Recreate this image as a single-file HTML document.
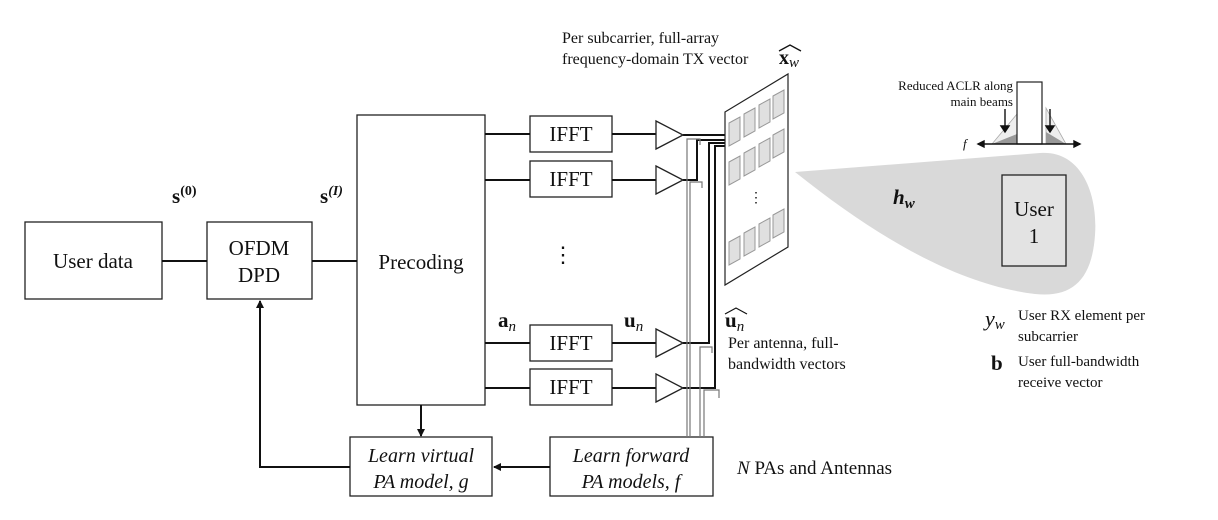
<!DOCTYPE html>
<html><head><meta charset="utf-8"><style>
body{margin:0;background:#fff}
svg{display:block}
text{font-family:"Liberation Serif",serif;fill:#111}
</style></head><body>
<svg width="1218" height="520" viewBox="0 0 1218 520" xmlns="http://www.w3.org/2000/svg">
<defs>
<marker id="ah" markerWidth="8" markerHeight="8" refX="7" refY="4" orient="auto" markerUnits="userSpaceOnUse"><path d="M0,0 L8,4 L0,8 Z" fill="#111"/></marker>
</defs>
<!-- beam -->
<path d="M795,172 L1040,153 C1082,150 1098,195 1095,235 C1092,280 1072,298 1035,294 C960,285 880,240 795,172 Z" fill="#d9d9d9"/>
<rect x="1002" y="175" width="64" height="91" fill="#e3e3e3" stroke="#222" stroke-width="1.3"/>
<text x="1034" y="216" font-size="21" text-anchor="middle">User</text>
<text x="1034" y="243" font-size="21" text-anchor="middle">1</text>
<text x="893" y="204" font-size="21" font-weight="bold" font-style="italic">h<tspan font-size="15" dy="4">w</tspan></text>

<!-- boxes -->
<g fill="#fff" stroke="#222" stroke-width="1.3">
<rect x="25" y="222" width="137" height="77"/>
<rect x="207" y="222" width="105" height="77"/>
<rect x="357" y="115" width="128" height="290"/>
<rect x="530" y="116" width="82" height="36"/>
<rect x="530" y="161" width="82" height="36"/>
<rect x="530" y="325" width="82" height="36"/>
<rect x="530" y="369" width="82" height="36"/>
<rect x="350" y="437" width="142" height="59"/>
<rect x="550" y="437" width="163" height="59"/>
</g>
<text x="93" y="268" font-size="21" text-anchor="middle">User data</text>
<text x="259" y="255" font-size="21" text-anchor="middle">OFDM</text>
<text x="259" y="282" font-size="21" text-anchor="middle">DPD</text>
<text x="421" y="269" font-size="21" text-anchor="middle">Precoding</text>
<g font-size="21" text-anchor="middle"><text x="571" y="141">IFFT</text><text x="571" y="186">IFFT</text><text x="571" y="350">IFFT</text><text x="571" y="394">IFFT</text></g>
<text x="421" y="462" font-size="20" font-style="italic" text-anchor="middle">Learn virtual</text>
<text x="421" y="488" font-size="20" font-style="italic" text-anchor="middle">PA model, g</text>
<text x="631" y="462" font-size="20" font-style="italic" text-anchor="middle">Learn forward</text>
<text x="631" y="488" font-size="20" font-style="italic" text-anchor="middle">PA models, f</text>

<!-- lines -->
<g stroke="#111" stroke-width="2" fill="none">
<line x1="162" y1="261" x2="207" y2="261"/>
<line x1="312" y1="261" x2="357" y2="261"/>
<line x1="485" y1="134" x2="530" y2="134"/><line x1="485" y1="180" x2="530" y2="180"/>
<line x1="485" y1="343" x2="530" y2="343"/><line x1="485" y1="388" x2="530" y2="388"/>
<line x1="612" y1="134" x2="656" y2="134"/><line x1="612" y1="180" x2="656" y2="180"/>
<line x1="612" y1="343" x2="656" y2="343"/><line x1="612" y1="388" x2="656" y2="388"/>
<line x1="421" y1="405" x2="421" y2="436" marker-end="url(#ah)"/>
<line x1="550" y1="467" x2="494" y2="467" marker-end="url(#ah)"/>
<polyline points="350,467 260,467 260,301" marker-end="url(#ah)"/>
<polyline points="683,135 727,135"/>
<polyline points="683,180 697,180 697,140 727,140"/>
<polyline points="683,343 709,343 709,143 727,143"/>
<polyline points="683,388 715,388 715,146 727,146"/>
</g>
<!-- amplifiers -->
<g fill="#fff" stroke="#222" stroke-width="1.3">
<path d="M656,121 L683,135 L656,149 Z"/>
<path d="M656,166 L683,180 L656,194 Z"/>
<path d="M656,329 L683,343 L656,357 Z"/>
<path d="M656,374 L683,388 L656,402 Z"/>
</g>
<!-- gray feedback wires -->
<g stroke="#777" stroke-width="1.2" fill="none">
<polyline points="687,437 687,139 700,139 700,145"/>
<polyline points="690,437 690,182 702,182 702,188"/>
<polyline points="700,437 700,347 712,347 712,353"/>
<polyline points="704,437 704,390 719,390 719,398"/>
</g>
<!-- panel -->
<path d="M725,112 L788,74 L788,247 L725,285 Z" fill="#fff" stroke="#222" stroke-width="1.2"/>
<g fill="#e0e0e0" stroke="#999" stroke-width="1">
<path d="M729,123 l11,-6 v23 l-11,6Z"/><path d="M744,114 l11,-6 v23 l-11,6Z"/><path d="M759,105 l11,-6 v23 l-11,6Z"/><path d="M773,96 l11,-6 v23 l-11,6Z"/>
<path d="M729,162 l11,-6 v23 l-11,6Z"/><path d="M744,153 l11,-6 v23 l-11,6Z"/><path d="M759,144 l11,-6 v23 l-11,6Z"/><path d="M773,135 l11,-6 v23 l-11,6Z"/>
<path d="M729,242 l11,-6 v23 l-11,6Z"/><path d="M744,233 l11,-6 v23 l-11,6Z"/><path d="M759,224 l11,-6 v23 l-11,6Z"/><path d="M773,215 l11,-6 v23 l-11,6Z"/>
</g>
<text x="756" y="202" font-size="14" text-anchor="middle">⋮</text>
<text x="563" y="262" font-size="22" text-anchor="middle">⋮</text>

<!-- labels -->
<text x="172" y="203" font-size="21" font-weight="bold">s<tspan font-size="14" dy="-8">(0)</tspan></text>
<text x="320" y="203" font-size="21" font-weight="bold">s<tspan font-size="14" dy="-8" font-style="italic">(I)</tspan></text>
<text x="498" y="327" font-size="21" font-weight="bold">a<tspan font-size="15" dy="4" font-style="italic" font-weight="normal">n</tspan></text>
<text x="624" y="327" font-size="21" font-weight="bold">u<tspan font-size="15" dy="4" font-style="italic" font-weight="normal">n</tspan></text>
<text x="725" y="327" font-size="21" font-weight="bold">u<tspan font-size="15" dy="4" font-style="italic" font-weight="normal">n</tspan></text>
<path d="M725,314 L736,308 L747,314" stroke="#111" stroke-width="1.2" fill="none"/>
<text x="728" y="348" font-size="16">Per antenna, full-</text>
<text x="728" y="369" font-size="16">bandwidth vectors</text>
<text x="562" y="43" font-size="16">Per subcarrier, full-array</text>
<text x="562" y="64" font-size="16">frequency-domain TX vector</text>
<text x="779" y="64" font-size="20" font-weight="bold">x<tspan font-size="15" dy="3" font-style="italic" font-weight="normal">w</tspan></text>
<path d="M779,51 L790,45 L801,51" stroke="#111" stroke-width="1.3" fill="none"/>
<text x="737" y="474" font-size="19"><tspan font-style="italic">N</tspan> PAs and Antennas</text>

<!-- spectrum -->
<path d="M992,144 L1022,108 L1022,144 Z" fill="#eee" stroke="#aaa" stroke-width="0.8"/>
<path d="M1066,144 L1046,108 L1046,144 Z" fill="#eee" stroke="#aaa" stroke-width="0.8"/>
<path d="M992,144 L1022,132 L1022,144 Z" fill="#999"/>
<path d="M1066,144 L1046,132 L1046,144 Z" fill="#999"/>
<rect x="1017" y="82" width="25" height="62" fill="#fff" stroke="#222" stroke-width="1.2"/>
<g stroke="#111" stroke-width="1.4">
<line x1="978" y1="144" x2="1080" y2="144"/>
<path d="M978,144 l6,-3 v6Z M1080,144 l-6,-3 v6Z" fill="#111"/>
<line x1="1005" y1="109" x2="1005" y2="128"/><path d="M1001,126 l4,6 l4,-6Z" fill="#111"/>
<line x1="1050" y1="109" x2="1050" y2="128"/><path d="M1046,126 l4,6 l4,-6Z" fill="#111"/>
</g>
<text x="1013" y="90" font-size="13" text-anchor="end">Reduced ACLR along</text>
<text x="1013" y="106" font-size="13" text-anchor="end">main beams</text>
<text x="963" y="148" font-size="13" font-style="italic">f</text>

<!-- legend -->
<text x="985" y="326" font-size="22" font-style="italic">y<tspan font-size="15" dy="3">w</tspan></text>
<text x="1018" y="320" font-size="15">User RX element per</text>
<text x="1018" y="341" font-size="15">subcarrier</text>
<text x="991" y="370" font-size="21" font-weight="bold">b</text>
<text x="1018" y="366" font-size="15">User full-bandwidth</text>
<text x="1018" y="387" font-size="15">receive vector</text>
</svg>
</body></html>
